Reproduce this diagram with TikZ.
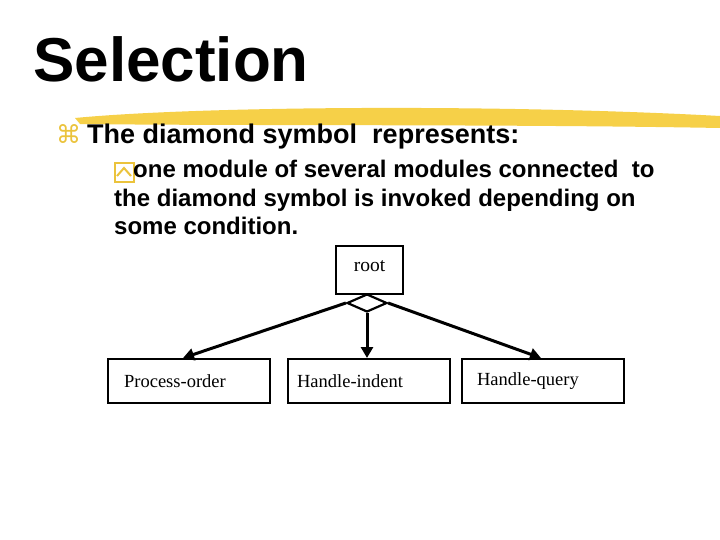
\documentclass[tikz,border=0pt]{standalone}
\usepackage{fontspec}
\setmainfont{Liberation Sans}
\newfontfamily\serf{Liberation Serif}
\newfontfamily\dvsans{DejaVu Sans}
\usetikzlibrary{shapes.geometric,arrows.meta}
\definecolor{brush}{RGB}{245,200,40}
\definecolor{bul}{RGB}{235,195,60}
\tikzset{x=1pt,y=-1pt,
 mod/.style={draw,line width=2.2pt,minimum width=162pt,minimum height=44pt,text width=160pt,align=left,font=\serf\fontsize{18.5}{20}\selectfont,inner sep=0pt},
 conn/.style={line width=3pt,-{Triangle[length=11pt,width=12pt]}}}
\begin{document}
\begin{tikzpicture}
\useasboundingbox (0,0) rectangle (720,540);
\fill[white] (0,0) rectangle (720,540);
\fill[brush,opacity=.85] (75,118) .. controls (200,106) and (500,104) .. (720,116) -- (720,128) .. controls (500,124) and (250,126) .. (80,124) -- cycle;
\node[anchor=base west,inner sep=0,font=\bfseries\fontsize{62}{64}\selectfont] (t) at (33,82) {Selection};
\node[anchor=base west,inner sep=0,text=bul,font=\dvsans\fontsize{25}{26}\selectfont] (b1) at (56,144) {⌘};
\node[anchor=base west,inner sep=0,font=\bfseries\fontsize{27}{28}\selectfont] (l1) at (87,144) {The diamond symbol\ \ represents:};
\node[draw=bul,line width=2pt,minimum size=19pt,inner sep=0] (b2) at (124,173) {};
\draw[bul,line width=2pt] ([xshift=-7pt,yshift=-3pt]b2.center) -- ([yshift=5pt]b2.center) -- ([xshift=7pt,yshift=-3pt]b2.center);
\node[anchor=north west,inner sep=0,align=left,font=\bfseries\fontsize{24}{28.5}\selectfont] (l2) at (114,160) {\hspace*{19pt}one module of several modules connected\ \ to\\the diamond symbol is invoked depending on\\some condition.};
\node[draw,line width=2.2pt,minimum width=67pt,minimum height=48pt,font=\serf\fontsize{19.5}{22}\selectfont,inner sep=0,anchor=north west,text depth=8pt] (root) at (335,245) {root};
\node[draw,diamond,line width=2.2pt,fill=white,minimum width=40pt,minimum height=18pt,inner sep=0,aspect=2.2] (d) at (367,303) {};
\node[mod,anchor=north west] (p) at (107,358) {\hspace*{15pt}Process-order};
\node[mod,anchor=north west] (h) at (287,358) {\hspace*{8pt}Handle-indent};
\node[mod,anchor=north west] (q) at (461,358) {\hspace*{14pt}Handle-query};
\coordinate (pe) at (183,358);
\coordinate (qe) at (541,358);
\draw[conn] (d.west) -- (pe);
\draw[conn] (d.south) -- (d.south |- h.north);
\draw[conn] (d.east) -- (qe);
\end{tikzpicture}
\end{document}
